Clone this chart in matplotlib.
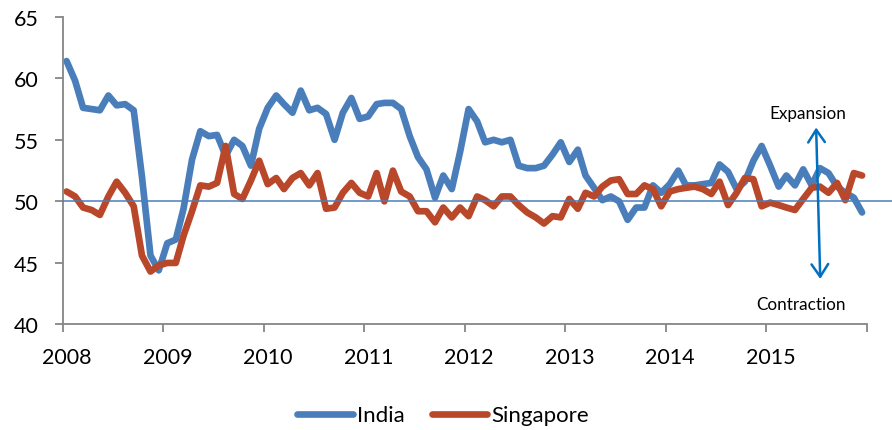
import pandas as pd
import matplotlib
matplotlib.use('Agg')
import matplotlib.pyplot as plt
import matplotlib.transforms as mtransforms

plt.rcParams['font.family'] = ['Lato', 'DejaVu Sans']

# Monthly PMI readings, Jan 2008 - Dec 2015
india = [
    61.4, 59.8, 57.6, 57.5, 57.4, 58.6, 57.8, 57.9, 57.4, 52.0, 45.6, 44.4,  # 2008
    46.6, 46.9, 49.4, 53.4, 55.7, 55.3, 55.4, 53.7, 55.0, 54.5, 52.9, 55.9,  # 2009
    57.6, 58.6, 57.9, 57.2, 59.0, 57.4, 57.6, 57.1, 55.0, 57.2, 58.4, 56.7,  # 2010
    56.9, 57.9, 58.0, 58.0, 57.5, 55.3, 53.6, 52.6, 50.3, 52.1, 51.0, 54.0,  # 2011
    57.5, 56.5, 54.8, 55.0, 54.8, 55.0, 52.9, 52.7, 52.7, 52.9, 53.8, 54.8,  # 2012
    53.2, 54.2, 52.1, 51.1, 50.1, 50.4, 50.0, 48.5, 49.5, 49.5, 51.3, 50.7,  # 2013
    51.4, 52.5, 51.3, 51.3, 51.4, 51.5, 53.0, 52.4, 51.0, 51.6, 53.3, 54.5,  # 2014
    52.9, 51.2, 52.1, 51.3, 52.6, 51.3, 52.7, 52.3, 51.2, 50.7, 50.3, 49.1,  # 2015
]
singapore = [
    50.8, 50.4, 49.5, 49.3, 48.9, 50.4, 51.6, 50.7, 49.6, 45.6, 44.3, 44.8,  # 2008
    45.0, 45.0, 47.2, 49.2, 51.3, 51.2, 51.5, 54.5, 50.6, 50.2, 51.7, 53.3,  # 2009
    51.4, 51.9, 51.0, 51.9, 52.3, 51.3, 52.3, 49.4, 49.5, 50.7, 51.5, 50.7,  # 2010
    50.4, 52.3, 50.0, 52.5, 50.8, 50.4, 49.2, 49.2, 48.3, 49.5, 48.7, 49.5,  # 2011
    48.8, 50.4, 50.1, 49.6, 50.4, 50.4, 49.7, 49.1, 48.7, 48.2, 48.8, 48.7,  # 2012
    50.2, 49.4, 50.7, 50.4, 51.2, 51.7, 51.8, 50.6, 50.6, 51.3, 51.0, 49.6,  # 2013
    50.8, 51.0, 51.1, 51.2, 51.0, 50.6, 51.6, 49.7, 50.7, 51.9, 51.8, 49.6,  # 2014
    49.9, 49.7, 49.5, 49.3, 50.2, 51.1, 51.2, 50.7, 51.5, 50.1, 52.3, 52.1,  # 2015
]
years = ['2008', '2009', '2010', '2011', '2012', '2013', '2014', '2015', '']
yticks = [40, 45, 50, 55, 60, 65]

# points sit mid-month
dates = pd.date_range('2008-01-01', periods=len(india), freq='MS') + pd.Timedelta(days=14)
year_ticks = pd.date_range('2008-01-01', '2016-01-01', freq='YS')

blue = '#4A7EBB'
red = '#B9472A'
grey = '#868686'

fig = plt.figure(figsize=(8.92, 4.31), dpi=100)
ax = fig.add_axes([0.0703, 0.2448, 0.9014, 0.7141])

ax.plot(dates, india, color=blue, lw=4.8, solid_capstyle='round', solid_joinstyle='round', label='India')
ax.plot(dates, singapore, color=red, lw=4.8, solid_capstyle='round', solid_joinstyle='round', label='Singapore')

# 50 threshold line, runs past the plot to the right edge
ax.plot([pd.Timestamp('2008-01-01'), pd.Timestamp('2016-04-01')], [50, 50],
        color=blue, lw=1.1, clip_on=False, zorder=3)

ax.annotate('', xy=(pd.Timestamp('2015-07-01'), 56.0), xytext=(pd.Timestamp('2015-07-16'), 43.7),
            arrowprops=dict(arrowstyle='<->,head_length=0.6,head_width=0.4', color='#0070C0',
                            lw=1.8, mutation_scale=15, shrinkA=0, shrinkB=0))
ax.text(pd.Timestamp('2015-10-17'), 57.2, 'Expansion', ha='right', va='center', fontsize=12.3, color='black')
ax.text(pd.Timestamp('2015-10-17'), 41.7, 'Contraction', ha='right', va='center', fontsize=12.3, color='black')

ax.set_xlim(pd.Timestamp('2008-01-01'), pd.Timestamp('2016-01-01'))
ax.set_ylim(40, 65)
ax.set_xticks(year_ticks)
ax.set_xticklabels(years)
ax.set_yticks(yticks)

for side in ['top', 'right']:
    ax.spines[side].set_visible(False)
for side in ['left', 'bottom']:
    ax.spines[side].set_color(grey)
    ax.spines[side].set_linewidth(1.3)

ax.tick_params(axis='both', colors=grey, labelcolor='black', labelsize=15.5, length=5.5, width=1.3)
ax.tick_params(axis='x', pad=11)
ax.tick_params(axis='y', pad=12)

# shift year labels a little right, like the original
shift = mtransforms.ScaledTranslation(4 / 100, 0, fig.dpi_scale_trans)
for lab in ax.get_xticklabels():
    lab.set_transform(lab.get_transform() + shift)

fig.legend(loc='center', bbox_to_anchor=(0.497, 0.034), ncol=2, frameon=False, fontsize=16,
           handlelength=2.5, handletextpad=0.2, columnspacing=1.2)

plt.savefig('out.png', dpi=100)
